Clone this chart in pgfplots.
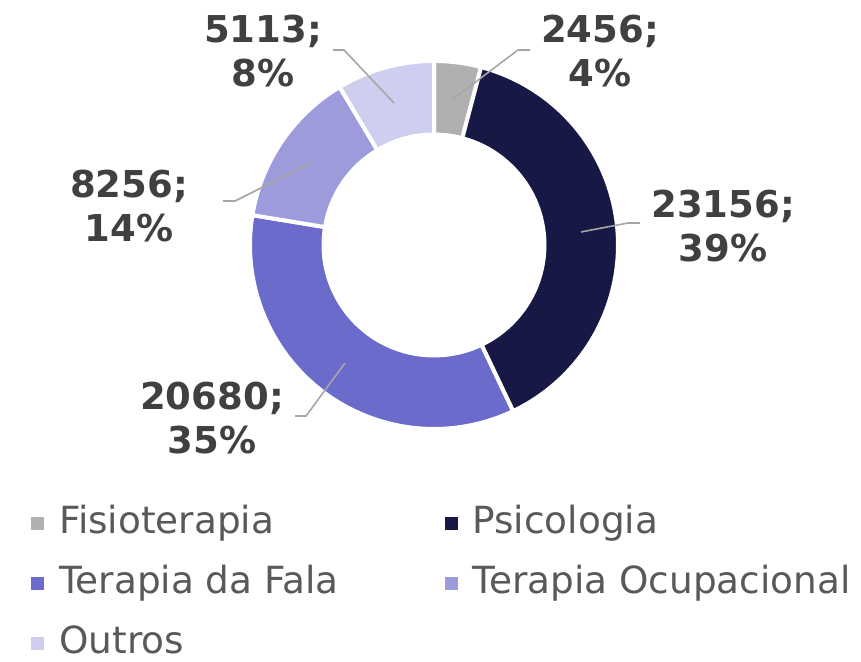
\documentclass[border=0pt]{standalone}
\usepackage{pgfplots}
\pgfplotsset{compat=1.18}
\usepackage{pgfplotstable}
\usepackage{fontspec}
\setmainfont{DejaVu Sans}

\definecolor{cFis}{RGB}{176,176,176}
\definecolor{cPsi}{RGB}{24,24,70}
\definecolor{cTF}{RGB}{107,107,204}
\definecolor{cTO}{RGB}{157,155,220}
\definecolor{cOut}{RGB}{206,206,238}
\definecolor{lblgray}{RGB}{64,64,64}
\definecolor{leggray}{RGB}{89,89,89}
\definecolor{leadgray}{RGB}{166,166,166}

% atendimentos por area
\pgfplotstableread{
name value
Fisioterapia 2456
Psicologia 23156
TerapiaFala 20680
TerapiaOcupacional 8256
Outros 5113
}\terapias

\pgfplotsset{
  slice/.style={fill=#1, draw=white, line width=2pt, samples=90},
  sqlegend/.style={legend image code/.code={\fill[##1] (0pt,-4.2pt) rectangle (8.4pt,4.2pt);}},
}

\begin{document}
\begin{tikzpicture}
\pgfplotstablegetelem{0}{value}\of\terapias \edef\vA{\pgfplotsretval}
\pgfplotstablegetelem{1}{value}\of\terapias \edef\vB{\pgfplotsretval}
\pgfplotstablegetelem{2}{value}\of\terapias \edef\vC{\pgfplotsretval}
\pgfplotstablegetelem{3}{value}\of\terapias \edef\vD{\pgfplotsretval}
\pgfplotstablegetelem{4}{value}\of\terapias \edef\vE{\pgfplotsretval}
\edef\tot{\fpeval{\vA+\vB+\vC+\vD+\vE}}
% limits of the slices, clockwise from the top
\edef\aA{\fpeval{90-360*\vA/\tot}}
\edef\aB{\fpeval{\aA-360*\vB/\tot}}
\edef\aC{\fpeval{\aB-360*\vC/\tot}}
\edef\aD{\fpeval{\aC-360*\vD/\tot}}
\def\cx{434}\def\cy{411}\def\R{184}\def\r{112.5}
\begin{axis}[
  scale only axis, width=430.5pt, height=328pt,
  xmin=0, xmax=861, ymin=0, ymax=656,
  hide axis, clip=false,
  sqlegend,
  legend columns=2,
  legend style={at={(axis cs:27,151)}, anchor=north west, draw=none, fill=none,
    inner sep=0pt, font=\fontsize{18.7}{22.4}\selectfont, text=leggray,
    nodes={inner xsep=3pt, inner ysep=0pt, text height=14pt, text depth=4pt},
    row sep=12pt,
    /tikz/column 1/.style={column sep=2.5pt},
    /tikz/column 2/.style={column sep=48pt},
    /tikz/column 3/.style={column sep=2.5pt}},
  legend cell align=left,
]
\addplot[draw=none, forget plot] coordinates {(0,0) (861,656)};

\addplot[slice=cFis, domain=\aA:90] ({\cx+\R*cos(x)},{\cy+\R*sin(x)}) -- (axis cs:\cx,\cy) -- cycle;
\addlegendentry{Fisioterapia}
\addplot[slice=cPsi, domain=\aB:\aA] ({\cx+\R*cos(x)},{\cy+\R*sin(x)}) -- (axis cs:\cx,\cy) -- cycle;
\addlegendentry{Psicologia}
\addplot[slice=cTF, domain=\aC:\aB] ({\cx+\R*cos(x)},{\cy+\R*sin(x)}) -- (axis cs:\cx,\cy) -- cycle;
\addlegendentry{Terapia da Fala}
\addplot[slice=cTO, domain=\aD:\aC] ({\cx+\R*cos(x)},{\cy+\R*sin(x)}) -- (axis cs:\cx,\cy) -- cycle;
\addlegendentry{Terapia Ocupacional}
\addplot[slice=cOut, domain=-270:\aD] ({\cx+\R*cos(x)},{\cy+\R*sin(x)}) -- (axis cs:\cx,\cy) -- cycle;
\addlegendentry{Outros}

% hole
\addplot[fill=white, draw=none, domain=0:360, samples=120, forget plot]
  ({\cx+\r*cos(x)},{\cy+\r*sin(x)}) -- cycle;

% leader lines
\addplot[leadgray, line width=0.8pt, forget plot] coordinates {(453,557) (518,606) (530,606)};
\addplot[leadgray, line width=0.8pt, forget plot] coordinates {(581,424) (628,433) (640,433)};
\addplot[leadgray, line width=0.8pt, forget plot] coordinates {(345,293) (306,240) (295,240)};
\addplot[leadgray, line width=0.8pt, forget plot] coordinates {(311,493) (235,455) (223,455)};
\addplot[leadgray, line width=0.8pt, forget plot] coordinates {(394,553) (344,606) (333,606)};

\tikzset{lbl/.style={align=center, text=lblgray, inner sep=0pt,
  font=\bfseries\fontsize{18.5}{22}\selectfont}}
\node[lbl] at (axis cs:600,604.5) {2456;\\4\%};
\node[lbl] at (axis cs:723,430) {23156;\\39\%};
\node[lbl] at (axis cs:212,238) {20680;\\35\%};
\node[lbl] at (axis cs:129,450) {8256;\\14\%};
\node[lbl] at (axis cs:263,604.5) {5113;\\8\%};
\end{axis}
\end{tikzpicture}
\end{document}
